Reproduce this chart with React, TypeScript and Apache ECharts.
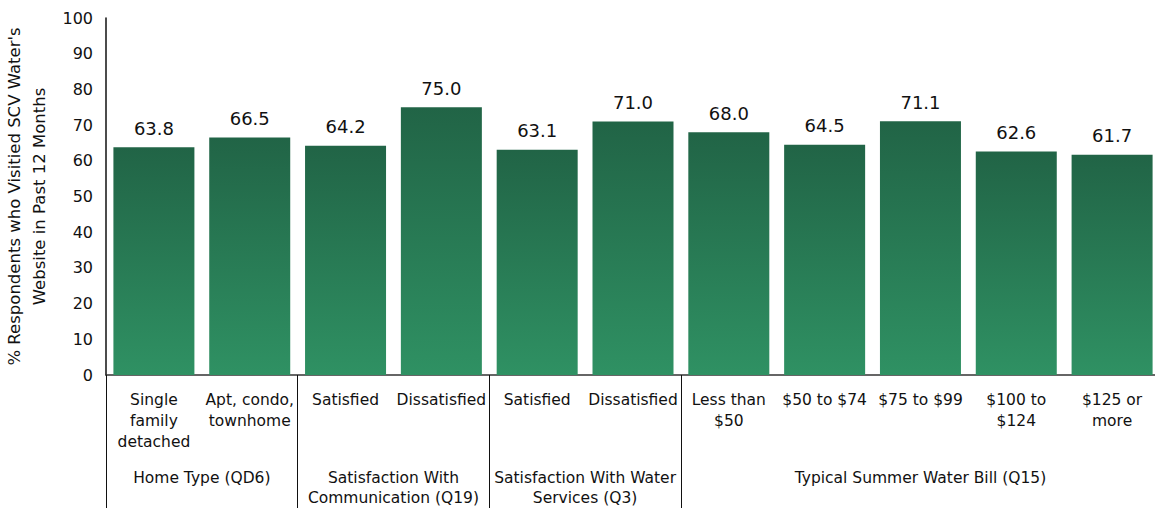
import React, { useEffect, useRef } from "react";
import * as echarts from "echarts";

const categories = [
  "Single\nfamily\ndetached",
  "Apt, condo,\ntownhome",
  "Satisfied",
  "Dissatisfied",
  "Satisfied",
  "Dissatisfied",
  "Less than\n$50",
  "$50 to $74",
  "$75 to $99",
  "$100 to\n$124",
  "$125 or\nmore",
];
const values = [63.8, 66.5, 64.2, 75.0, 63.1, 71.0, 68.0, 64.5, 71.1, 62.6, 61.7];
const groupNames = [
  "Home Type (QD6)",
  "Satisfaction With\nCommunication (Q19)",
  "Satisfaction With Water\nServices (Q3)",
  "Typical Summer Water Bill (Q15)",
];
const groupSizes = [2, 2, 2, 5];
const yAxisTitle = "% Respondents who Visitied SCV Water's\nWebsite in Past 12 Months";

const FONT = "DejaVu Sans";

export default function App() {
  const ref = useRef<HTMLDivElement>(null);
  useEffect(() => {
    if (!ref.current) return;
    const chart = echarts.init(ref.current, undefined, { renderer: "svg" });

    const n = categories.length;
    const halfSlots: string[] = [];
    for (let i = 0; i <= 2 * n; i++) halfSlots.push("");
    const labelIdx: Record<number, string> = {};
    const sepIdx = new Set<number>();
    let start = 0;
    sepIdx.add(0);
    groupSizes.forEach((s, gi) => {
      labelIdx[start + s] = groupNames[gi];
      start += s * 2;
      sepIdx.add(start);
    });
    Object.keys(labelIdx).forEach((k) => {
      halfSlots[Number(k)] = labelIdx[Number(k)];
    });

    chart.setOption({
      animation: false,
      textStyle: { fontFamily: FONT },
      grid: {
        left: 106,
        top: 18,
        right: -5,
        bottom: 133,
        containLabel: false,
        outerBoundsMode: "none",
      },
      xAxis: [
        {
          type: "category",
          data: categories,
          axisLine: { lineStyle: { color: "#333", width: 1.5 } },
          axisTick: { show: false },
          axisLabel: {
            interval: 0,
            color: "#111",
            fontSize: 15.5,
            lineHeight: 21,
            margin: 14,
            fontFamily: FONT,
          },
        },
        {
          type: "category",
          position: "bottom",
          boundaryGap: false,
          data: halfSlots,
          axisLine: { show: false },
          axisTick: {
            show: true,
            length: 135,
            interval: (i: number) => sepIdx.has(i),
            lineStyle: { color: "#111", width: 1 },
          },
          axisLabel: {
            interval: (i: number) => labelIdx[i] !== undefined,
            color: "#111",
            fontSize: 15.5,
            lineHeight: 20,
            margin: 93,
            fontFamily: FONT,
          },
        },
      ],
      yAxis: {
        type: "value",
        min: 0,
        max: 100,
        interval: 10,
        name: yAxisTitle,
        nameLocation: "middle",
        nameGap: 47,
        nameTextStyle: { fontSize: 16.5, lineHeight: 25, color: "#111", fontFamily: FONT },
        axisLine: { show: true, lineStyle: { color: "#111", width: 1.5 } },
        axisTick: { show: false },
        splitLine: { show: false },
        axisLabel: { fontSize: 16, color: "#111", margin: 13, fontFamily: FONT },
      },
      series: [
        {
          type: "bar",
          data: values,
          barWidth: 81,
          itemStyle: {
            color: new echarts.graphic.LinearGradient(0, 0, 0, 1, [
              { offset: 0, color: "#216446" },
              { offset: 1, color: "#2F9163" },
            ]),
          },
          label: {
            show: true,
            position: "top",
            distance: 10,
            fontSize: 18,
            color: "#111",
            fontFamily: FONT,
            formatter: (p: any) => Number(p.value).toFixed(1),
          },
        },
      ],
    });
    return () => chart.dispose();
  }, []);
  return (
    <div
      ref={ref}
      style={{ position: "absolute", left: 0, top: 0, width: 1155, height: 508 }}
    />
  );
}
